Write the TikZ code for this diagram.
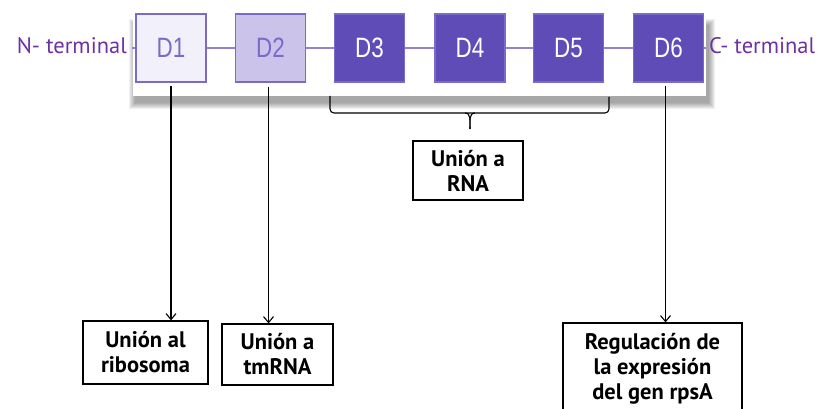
\documentclass[tikz,border=0pt]{standalone}
\usepackage{fontspec}
\setmainfont{PT Sans}
\newfontfamily\domfont{Liberation Sans}
\usetikzlibrary{arrows.meta}
\definecolor{lilac}{RGB}{242,240,250}
\definecolor{lavender}{RGB}{204,195,234}
\definecolor{violet}{RGB}{96,76,182}
\definecolor{rim}{RGB}{124,106,202}
\definecolor{wire}{RGB}{146,130,214}
\definecolor{tagtext}{RGB}{112,48,160}
\tikzset{
    dom/.style={draw=rim,line width=1.4pt,minimum width=70pt,minimum height=68pt,inner sep=0pt},
    fn/.style={draw,line width=1.2pt,align=center,inner sep=0pt,font=\bfseries\fontsize{22.5}{25}\selectfont},
    tag/.style={text=tagtext,inner sep=0pt,font=\fontsize{22.5}{26}\selectfont},
    pin/.style={line width=1.1pt,-{Straight Barb[length=6pt,width=10pt]}},
}
\newcommand{\domain}[4] {
    \node[dom,fill=#3] (#1) at (#2,48) {};
    \node[text=#4,xscale=.8,font=\domfont\fontsize{28}{30}\selectfont] at (#1) {#1};
}
\begin{document}
\begin{tikzpicture}[x=1pt,y=-1pt]
    \useasboundingbox (0,0) rectangle (823,409);
    \foreach \b in {1,...,7}
        \fill[black,opacity=.06] (136-\b,26-\b) rectangle (708+\b,102+\b);
    \node[fill=white,minimum width=573pt,minimum height=84pt,inner sep=0pt] (panel) at (419.5,54) {};
    \draw[wire,line width=1.4pt] (132,48) -- (706,48);
    \domain{D1}{171}{lilac}{rim}
    \domain{D2}{270.5}{lavender}{rim}
    \domain{D3}{369.5}{violet}{white}
    \domain{D4}{470}{violet}{white}
    \domain{D5}{568.5}{violet}{white}
    \domain{D6}{668.5}{violet}{white}
    \node[tag,anchor=east] (nterm) at (127,46) {N- terminal};
    \node[tag,anchor=west] (cterm) at (709,46) {C- terminal};

    \node[fn,minimum width=125pt,minimum height=63pt] (rib) at (145.5,352.5) {Unión al\\ribosoma};
    \node[fn,minimum width=111pt,minimum height=61pt] (tm) at (277.5,354.5) {Unión a\\tmRNA};
    \node[fn,minimum width=110pt,minimum height=59pt] (rna) at (468,170.5) {Unión a\\RNA};
    \node[fn,minimum width=179pt,minimum height=92pt] (reg) at (652.5,369) {Regulación de\\la expresión\\del gen rpsA};

    \coordinate (bl) at (330,96);
    \coordinate (br) at (609,97);
    \coordinate (bm) at (470,113);
    \coordinate (bt) at (470,129);
    \draw[line width=1.1pt,rounded corners=4pt] (bl) |- (bm) -| (br);
    \draw[line width=1.1pt] ([xshift=-5pt]bm) to[out=0,in=90] (bt);
    \draw[line width=1.1pt] ([xshift=5pt]bm) to[out=180,in=90] (bt);

    \draw[pin] ([yshift=-3pt]D1.south) -- (D1.south |- rib.north);
    \draw[pin] ([xshift=-2pt,yshift=-4pt]D2.south) -- ([xshift=-2pt]D2.south |- tm.north);
    \draw[pin] ([xshift=-3pt,yshift=-3pt]D6.south) -- ([xshift=-3pt]D6.south |- reg.north);
\end{tikzpicture}
\end{document}
